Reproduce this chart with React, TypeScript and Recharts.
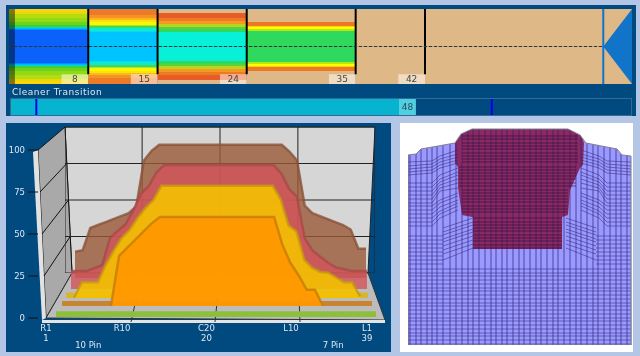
import {
  Area,
  Bar,
  BarChart,
  CartesianGrid,
  ComposedChart,
  LabelList,
  Line,
  ReferenceArea,
  ReferenceLine,
  XAxis,
  YAxis,
} from "recharts";

const FONT = "'DejaVu Sans', sans-serif";
const NAVY = "#004a80";
const TAN = "#deb887";

// top strip: band edges are % of strip height from the outer edge, mirrored about 50
const transitions = [0, 8, 15, 24, 35, 42, 62.9];
const transitionLabels = [8, 15, 24, 35, 42];
const edges8 = [0, 4, 6.7, 12, 17.3, 21.3, 24, 25.3, 26.7, 28, 50];
const colours8 = ["#ffd20a", "#e6d80c", "#b4dc10", "#94da14", "#6cd41e", "#3cd03a", "#00d8c8", "#00b8ff", "#0090ff", "#0a62fa"];
const edges15 = [0, 8, 12, 14.7, 17.3, 21.3, 22.7, 25.3, 29.3, 30.7, 50];
const colours15 = ["#ee7a28", "#f49224", "#fcb81a", "#ffe010", "#f8f800", "#a8e420", "#40d860", "#10e8d0", "#00dcf0", "#00c4ff"];
const edges24 = [0, 5.3, 12, 16, 20, 24, 26.7, 30.7, 50];
const colours24 = [TAN, "#e85c28", "#ee7a26", "#f49a20", "#b8d420", "#60d038", "#30d860", "#08f0d8"];
const edges35 = [0, 17.3, 22.7, 24, 26.7, 29.3, 50];
const colours35 = [TAN, "#ee7824", "#ffd010", "#ffff00", "#b8e810", "#2fd95e"];
const edges42 = [0, 50];
const coloursTan = [TAN];
const sectionEdges = [edges8, edges15, edges24, edges35, edges42, edges42];
const sectionColours = [colours8, colours15, colours24, colours35, coloursTan, coloursTan];
const nozzle = [
  { x: 60, span: [50, 50] },
  { x: 62.9, span: [0, 100] },
];

const cleanerValue = 48;
const cleanerTag = 2;
const cleanerMarkers = [3, 57];
const cleanerMax = 73.5;

// 3D chart, one series per depth row, % by pin
const pins = [1, 2, 3, 4, 5, 6, 7, 8, 9, 10, 11, 12, 13, 14, 15, 16, 17, 18, 19, 20, 21, 22, 23, 24, 25, 26, 27, 28, 29, 30, 31, 32, 33, 34, 35, 36, 37, 38, 39];
const brownValues = [18, 19, 34, 36, 38, 40, 42, 44, 48.5, 79.5, 86, 90, 90, 90, 90, 90, 90, 90, 90, 90, 90, 90, 90, 90, 90, 90, 90, 90, 85.5, 79.5, 49, 44, 42, 40, 38, 36, 33, 20, 20];
const redValues = [11.7, 11.7, 11.7, 13.6, 15.6, 33, 37.7, 42, 51, 62, 67, 76, 80.5, 80.5, 80.5, 80.5, 80.5, 80.5, 80.5, 80.5, 80.5, 80.5, 80.5, 80.5, 80.5, 80.5, 80.5, 75, 65, 60, 33, 25, 21, 17, 14, 13, 11.7, 11.7, 11.7];
const yellowValues = [null, 0, 10, 10, 10, 21, 30, 38, 43, 50.6, 57, 62, 71, 71, 71, 71, 71, 71, 71, 71, 71, 71, 71, 71, 71, 71, 71, 62.6, 46, 42, 24, 19, 16.5, 16, 13, 10, 10, 1, null];
const orangeValues = [null, null, null, null, null, null, 0, 31, 36, 41, 46, 51, 55, 55, 55, 55, 55, 55, 55, 55, 55, 55, 55, 55, 55, 55, 55, 38, 26.5, 19, 10, 10, 0, null, null, null, null, null, null];
const greenValues = [3.5, 3.5, 3.5, 3.5, 3.5, 3.5, 3.5, 3.5, 3.5, 3.5, 3.5, 3.5, 3.5, 3.5, 3.5, 3.5, 3.5, 3.5, 3.5, 3.5, 3.5, 3.5, 3.5, 3.5, 3.5, 3.5, 3.5, 3.5, 3.5, 3.5, 3.5, 3.5, 3.5, 3.5, 3.5, 3.5, 3.5, 3.5, 3.5];
const percentTicks = [0, 25, 50, 75, 100];
const sideTicks = [1, 10, 20, 30, 39];
const sideLabels = ["R1", "R10", "C20", "L10", "L1"];
const pinTicks = [1, 20, 39];
const gateTicks = [6, 35];
const gateLabels = ["10 Pin", "7 Pin"];
const gridPins = [10, 20, 30];
const gridPercents = [25, 50, 75];

// mesh view, x and y in mesh units from the top left
const outline = [
  [0, 217], [0, 27], [8, 26], [13, 21], [47, 15], [53, 6], [64, 1], [160, 1], [172, 7], [178, 15], [209, 21], [214, 27], [223, 28], [223, 217], [0, 217],
];
const filledTop = [
  [0, 27], [8, 26], [13, 21], [47, 15], [53, 6], [64, 1], [160, 1], [172, 7], [178, 15], [209, 21], [214, 27], [223, 28],
];
const maroonSpan = [
  [47, 15, 35], [50, 10, 39], [50.1, 10, 60], [54, 5, 87], [64, 1, 89], [65, 1, 89], [65.1, 1, 121], [154, 1, 121], [154.1, 1, 89], [160, 1, 87], [162, 1, 62], [172, 7, 40], [175, 12, 37], [176, 15, 15],
];
const meshColumns = [2, 8, 13, 19, 24, 29, 35, 42, 48, 54, 60, 65, 71, 77, 83, 88, 94, 99, 105, 111, 116, 122, 128, 133, 139, 145, 150, 156, 162, 168, 173, 179, 185, 190, 196, 202, 208, 213, 219];
const lowerRows = [141, 145, 148, 152, 156, 160, 163, 167, 171, 175, 178, 182, 186, 190, 193, 197, 201, 205, 208, 212, 216];
const sideRows = [108, 112, 116, 120, 124, 128, 132, 136];
const wingColumns = [0, 24, 32, 50];
const wingRows = [
  [34, 33, 28, 22], [38, 36, 31, 26], [41, 39, 34, 29], [44, 42, 37, 32], [47, 45, 40, 35],
  [55, 55, 47, 40], [59, 59, 51, 44], [63, 63, 54, 47], [67, 67, 57, 51], [71, 71, 60, 55], [75, 75, 63, 60],
  [78, 78, 72, 65], [82, 82, 75, 68], [86, 86, 79, 72], [90, 90, 83, 75], [94, 94, 86, 78], [98, 98, 90, 82],
];
const notchColumns = [35, 65];
const notchRows = [[100, 90], [104, 94], [107, 97], [111, 101], [114, 104], [118, 108], [122, 112], [126, 116], [132, 120]];
const maroonRowsTop = [8, 11, 15, 18, 21, 25, 28, 31, 34];
const maroonRowsMid = [39, 42, 45, 48, 51, 55, 58];
const maroonRowsLow = [62, 65, 68, 71, 74, 78, 81, 84];
const maroonRowsBase = [90, 94, 97, 100, 103, 107, 110, 113, 117, 120];

const abs = (left: number, top: number) => ({ position: "absolute" as const, left, top });
const hiddenRows = pins.map((pin, i) => ({ pin, value: greenValues[i] }));

function TopStrip() {
  return (
    <div style={{ ...abs(9, 9), filter: "blur(0.5px)" }}>
      <ComposedChart width={623} height={75} margin={{ top: 0, right: 0, bottom: 0, left: 0 }}>
        <XAxis hide type="number" dataKey="x" domain={[0, 62.9]} />
        <YAxis hide type="number" reversed domain={[0, 100]} />
        {sectionEdges.map((edges, s) =>
          edges.slice(0, -1).flatMap((edge, i) => [
            <ReferenceArea key={`t${s}-${i}`} x1={transitions[s]} x2={transitions[s + 1]} y1={edge} y2={Math.min(edges[i + 1] + 1, 50)} fill={sectionColours[s][i]} fillOpacity={1} stroke="none" />,
            <ReferenceArea key={`b${s}-${i}`} x1={transitions[s]} x2={transitions[s + 1]} y1={Math.max(100 - edges[i + 1] - 1, 50)} y2={100 - edge} fill={sectionColours[s][i]} fillOpacity={1} stroke="none" />,
          ]),
        )}
        <ReferenceArea x1={0} x2={0.6} y1={0} y2={100} fill="#000" fillOpacity={0.45} stroke="none" />
        {transitionLabels.map((t) => (
          <ReferenceArea
            key={t}
            x1={t - 2.7}
            x2={t}
            y1={87}
            y2={100}
            fill="#fff"
            fillOpacity={0.5}
            stroke="none"
            label={{ value: t, position: "center", fontSize: 9, fill: "#444", fontFamily: FONT }}
          />
        ))}
        {transitionLabels.map((t) => (
          <ReferenceLine key={t} segment={[{ x: t, y: 0 }, { x: t, y: 87 }]} stroke="#000" strokeWidth={2} />
        ))}
        <ReferenceLine segment={[{ x: 0, y: 50 }, { x: 60, y: 50 }]} stroke="#333" strokeDasharray="3 2" />
        <ReferenceLine x={60} stroke="#1174c8" strokeWidth={2} />
        <Area data={nozzle} dataKey="span" type="linear" fill="#1174c8" fillOpacity={1} stroke="none" isAnimationActive={false} dot={false} activeDot={false} />
      </ComposedChart>
    </div>
  );
}

function CleanerBar() {
  const rows = [{ name: "Cleaner", body: cleanerValue - cleanerTag, tag: cleanerTag }];
  return (
    <div style={{ ...abs(10, 98), border: "1px solid #336a96", boxSizing: "border-box", width: 622, height: 18 }}>
      <BarChart width={620} height={16} layout="vertical" data={rows} margin={{ top: 0, right: 0, bottom: 0, left: 0 }} barCategoryGap={0}>
        <XAxis hide type="number" domain={[0, cleanerMax]} />
        <YAxis hide type="category" dataKey="name" />
        <Bar dataKey="body" stackId="cleaner" fill="#06b4cf" isAnimationActive={false} />
        <Bar dataKey="tag" stackId="cleaner" fill="#4fcfe0" isAnimationActive={false}>
          <LabelList dataKey="tag" position="center" formatter={() => cleanerValue} style={{ fontSize: 9, fill: "#345", fontFamily: FONT }} />
        </Bar>
        {cleanerMarkers.map((m) => (
          <ReferenceLine key={m} x={m} stroke="#0000f0" strokeWidth={2} />
        ))}
      </BarChart>
    </div>
  );
}

function DepthLayer({ left, right, base, height, values, fill, stroke, floor, floorFill, opacity }: any) {
  const rows = pins.map((pin, i) => ({ pin, value: values[i] }));
  return (
    <div style={abs(left, base - height)}>
      <ComposedChart width={right - left} height={height} data={rows} margin={{ top: 0, right: 0, bottom: 0, left: 0 }}>
        <XAxis hide type="number" dataKey="pin" domain={[1, 39]} />
        <YAxis hide type="number" domain={[0, 100]} />
        {floor ? <ReferenceArea x1={1} x2={39} y1={0} y2={floor} fill={floorFill} fillOpacity={0.95} stroke="none" /> : null}
        <Area dataKey="value" type="linear" fill={fill} fillOpacity={opacity} stroke={stroke} strokeOpacity={0.8} strokeWidth={stroke === "none" ? 0 : 2.5} isAnimationActive={false} dot={false} activeDot={false} />
      </ComposedChart>
    </div>
  );
}

function BoxFrame() {
  return (
    <svg width={385} height={229} viewBox="6 123 385 229" style={abs(6, 123)}>
      <polygon points="65,127 375,127 368,273 72,273" fill="#d6d6d6" stroke="#222" />
      <polygon points="38,150 65,127 72,273 46,318" fill="#a9a9a9" stroke="#111" />
      <polygon points="33,152 38,150 46,318 42,320" fill="#e2e2e2" />
      <polygon points="46,318 385,320 368,273 72,273" fill="#bcbcbc" stroke="#333" />
      <polygon points="42,320 385,320 385,323 42,323" fill="#e4e4e4" />
      {percentTicks.slice(1, 4).map((v) => (
        <line key={v} x1={46 - 0.08 * v} y1={318 - 1.68 * v} x2={72 - 0.07 * v} y2={273 - 1.46 * v} stroke="#111" />
      ))}
      <line x1={131} y1={322} x2={142} y2={273} stroke="#333" />
      <line x1={215} y1={322} x2={220} y2={273} stroke="#333" />
      <line x1={300} y1={322} x2={298} y2={273} stroke="#333" />
    </svg>
  );
}

function BackWall() {
  return (
    <div style={abs(65, 127)}>
      <ComposedChart width={310} height={146} data={hiddenRows} margin={{ top: 0, right: 0, bottom: 0, left: 0 }}>
        <XAxis hide type="number" dataKey="pin" domain={[0.1, 39.9]} ticks={gridPins} interval={0} />
        <YAxis hide type="number" domain={[0, 100]} ticks={gridPercents} interval={0} />
        <CartesianGrid stroke="#222" />
        <Line dataKey="value" stroke="none" dot={false} activeDot={false} isAnimationActive={false} />
      </ComposedChart>
    </div>
  );
}

function FrontAxes() {
  const labelStyle = { fontSize: 8.5, fill: "#dfe7f0", fontFamily: FONT };
  const plain = { axisLine: false, tickLine: false, interval: 0 as const, tick: labelStyle, type: "number" as const, dataKey: "pin", domain: [1, 39] };
  return (
    <>
      <div style={abs(6, 142)}>
        <ComposedChart width={60} height={184} data={hiddenRows} margin={{ top: 8, right: 0, bottom: 8, left: 0 }}>
          <XAxis hide type="number" dataKey="pin" domain={[1, 39]} />
          <YAxis
            type="number"
            width={32}
            domain={[0, 100]}
            ticks={percentTicks}
            interval={0}
            axisLine={false}
            tickSize={10}
            tickMargin={3}
            tickLine={{ stroke: "#111" }}
            tick={labelStyle}
          />
          <Line dataKey="value" stroke="none" dot={false} activeDot={false} isAnimationActive={false} />
        </ComposedChart>
      </div>
      <div style={abs(16, 298)}>
        <ComposedChart width={381} height={53} data={hiddenRows} margin={{ top: 0, right: 30, bottom: 6, left: 30 }}>
          <XAxis {...plain} xAxisId="a-side" ticks={sideTicks} height={11} tickMargin={1} tickFormatter={(v: number) => sideLabels[sideTicks.indexOf(v)]} />
          <XAxis {...plain} xAxisId="b-pin" ticks={pinTicks} height={7} tickMargin={0} />
          <XAxis {...plain} xAxisId="c-gate" ticks={gateTicks} height={9} tickMargin={0} tickFormatter={(v: number) => gateLabels[gateTicks.indexOf(v)]} />
          <YAxis hide type="number" domain={[0, 100]} />
          <Line xAxisId="a-side" dataKey="value" stroke="none" dot={false} activeDot={false} isAnimationActive={false} />
          <Line xAxisId="b-pin" dataKey="value" stroke="none" dot={false} activeDot={false} isAnimationActive={false} />
          <Line xAxisId="c-gate" dataKey="value" stroke="none" dot={false} activeDot={false} isAnimationActive={false} />
        </ComposedChart>
      </div>
    </>
  );
}

const points = (xs: number[], ys: number[]) => xs.map((x, i) => ({ x, y: ys[i] }));
const meshLine = (key: string, data: { x: number; y: number }[], stroke: string) => (
  <Line key={key} data={data} dataKey="y" type="linear" stroke={stroke} strokeWidth={1} dot={false} activeDot={false} legendType="none" isAnimationActive={false} />
);
const WING_LINE = "rgba(46,36,120,0.5)";
const MAROON_LINE = "rgba(36,10,50,0.55)";

function meshRows() {
  const mirror = (xs: number[]) => xs.map((x) => 223 - x);
  const out: any[] = [];
  lowerRows.forEach((y, i) => out.push(meshLine(`low${i}`, points([0, 223], [y, y]), WING_LINE)));
  sideRows.forEach((y, i) => {
    out.push(meshLine(`sl${i}`, points([0, 35], [y, y]), WING_LINE));
    out.push(meshLine(`sr${i}`, points([188, 223], [y, y]), WING_LINE));
  });
  wingRows.forEach((ys, i) => {
    out.push(meshLine(`wl${i}`, points(wingColumns, ys), WING_LINE));
    out.push(meshLine(`wr${i}`, points(mirror(wingColumns), ys), WING_LINE));
  });
  notchRows.forEach((ys, i) => {
    out.push(meshLine(`nl${i}`, points(notchColumns, ys), WING_LINE));
    out.push(meshLine(`nr${i}`, points(mirror(notchColumns), ys), WING_LINE));
  });
  maroonRowsTop.forEach((y, i) => out.push(meshLine(`mt${i}`, points([54, 170], [y, y]), MAROON_LINE)));
  maroonRowsMid.forEach((y, i) => out.push(meshLine(`mm${i}`, points([51, 168], [y, y]), MAROON_LINE)));
  maroonRowsLow.forEach((y, i) => out.push(meshLine(`ml${i}`, points([54, 160], [y, y]), MAROON_LINE)));
  maroonRowsBase.forEach((y, i) => out.push(meshLine(`mb${i}`, points([65, 154], [y, y]), MAROON_LINE)));
  return out;
}

function MeshView() {
  const margin = { top: 0, right: 0, bottom: 0, left: 0 };
  const solid = filledTop.map(([x, y]) => ({ x, span: [y, 217] }));
  const above = [...filledTop, [224, 217]].map(([x, y]) => ({ x, span: [0, y] }));
  const maroon = maroonSpan.map(([x, a, b]) => ({ x, span: [a, b] }));
  const edge = outline.map(([x, y]) => ({ x, y }));
  return (
    <>
      <div style={abs(408, 128)}>
        <ComposedChart width={224} height={217} margin={margin}>
          <XAxis hide type="number" dataKey="x" domain={[0, 224]} />
          <YAxis hide type="number" reversed domain={[0, 217]} />
          <Area data={solid} dataKey="span" type="linear" fill="#9999ff" fillOpacity={1} stroke="none" isAnimationActive={false} dot={false} activeDot={false} />
          <Area data={maroon} dataKey="span" type="linear" fill="#8b2a62" fillOpacity={1} stroke="none" isAnimationActive={false} dot={false} activeDot={false} />
        </ComposedChart>
      </div>
      <div style={abs(408, 128)}>
        <ComposedChart width={224} height={217} margin={margin}>
          <XAxis hide type="number" dataKey="x" domain={[0, 224]} ticks={meshColumns} interval={0} />
          <YAxis hide type="number" reversed domain={[0, 217]} />
          <CartesianGrid horizontal={false} stroke="rgba(46,30,110,0.66)" />
          <Area data={above} dataKey="span" type="linear" fill="#fff" fillOpacity={1} stroke="none" isAnimationActive={false} dot={false} activeDot={false} />
          {meshRows()}
          {meshLine("edge", edge, "#7d7d90")}
        </ComposedChart>
      </div>
    </>
  );
}

export default function App() {
  return (
    <div style={{ position: "fixed", left: 0, top: 0, width: 640, height: 356, background: "#b3c6e5", fontFamily: FONT, overflow: "hidden" }}>
      <div style={{ position: "absolute", inset: 0, filter: "blur(0.45px)" }}>
        <div style={{ ...abs(6, 5), width: 630, height: 111, background: NAVY }} />
        <TopStrip />
        <div style={{ ...abs(12, 87), fontSize: 9, color: "#dfe7f0", letterSpacing: 0.5 }}>Cleaner Transition</div>
        <CleanerBar />

        <div style={{ ...abs(6, 123), width: 385, height: 229, background: NAVY }} />
        <BoxFrame />
        <BackWall />
        <DepthLayer left={75} right={366} base={278} height={148.5} values={brownValues} fill="#9b5a38" stroke="#8a5238" opacity={0.8} />
        <DepthLayer left={71} right={367} base={289} height={154} values={redValues} fill="#d2545a" stroke="#a84a48" opacity={0.8} />
        <DepthLayer left={66} right={368} base={298} height={158} values={yellowValues} fill="#f4c000" stroke="#c49a10" floor={3.5} floorFill="#d8b428" opacity={0.9} />
        <DepthLayer left={62} right={372} base={306} height={162} values={orangeValues} fill="#ff9800" stroke="#c87c06" floor={3.1} floorFill="#c98128" opacity={0.95} />
        <DepthLayer left={56} right={376} base={317} height={167} values={greenValues} fill="#8cc03a" stroke="none" opacity={1} />
        <FrontAxes />

        <div style={{ ...abs(400, 123), width: 233, height: 229, background: "#fff" }} />
        <MeshView />
      </div>
    </div>
  );
}
